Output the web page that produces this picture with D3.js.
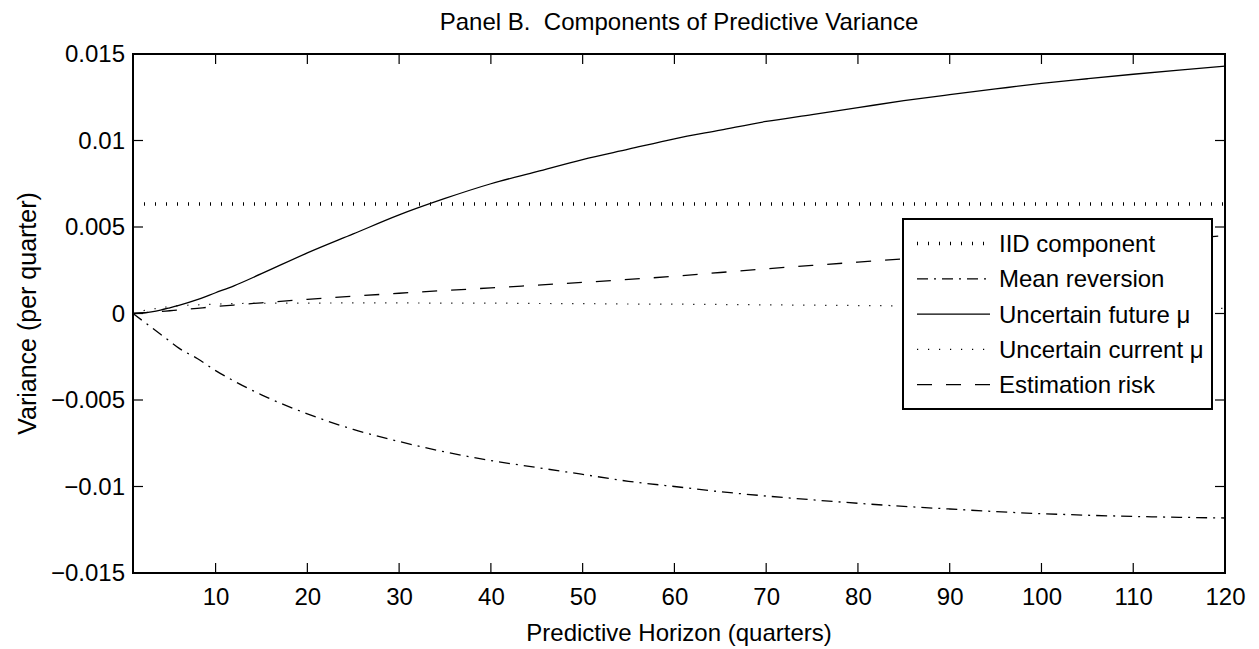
<!DOCTYPE html>
<html><head><meta charset="utf-8">
<script src="https://cdn.jsdelivr.net/npm/d3@7"></script>
<style>
html,body{margin:0;padding:0;background:#fff;}
svg text{font-family:"Liberation Sans",Arial,Helvetica,sans-serif;fill:#000;}
</style></head>
<body><svg id="c" width="1259" height="649"></svg>
<script>
// ---- data ----
const horizon = [1,2,3,4,5,6,8,10,12,15,20,25,30,35,40,45,50,55,60,65,70,75,80,85,90,95,100,105,110,115,120];
const iidComponent = horizon.map(() => 0.00633);
const meanReversion = [0,-0.0004,-0.0008,-0.0012,-0.0016,-0.0020,-0.0026,-0.0033,-0.0039,-0.0047,-0.0058,-0.0067,-0.0074,-0.0080,-0.0085,-0.0089,-0.0093,-0.0097,-0.0100,-0.0103,-0.01055,-0.01077,-0.01097,-0.01115,-0.0113,-0.01145,-0.01157,-0.01166,-0.01173,-0.01178,-0.01182];
const uncertainFuture = [0,0.00003,0.0001,0.0002,0.00033,0.00047,0.0008,0.0012,0.0016,0.0023,0.0035,0.0046,0.0057,0.00665,0.0075,0.0082,0.0089,0.0095,0.0101,0.0106,0.0111,0.0115,0.0119,0.0123,0.01265,0.01298,0.0133,0.01357,0.01383,0.01407,0.0143];
const uncertainCurrent = [0,0.00015,0.00025,0.00032,0.0004,0.00045,0.0005,0.00054,0.00057,0.00059,0.0006,0.00061,0.00061,0.0006,0.0006,0.00058,0.00057,0.00055,0.00054,0.00052,0.0005,0.00048,0.00046,0.00044,0.00042,0.0004,0.00038,0.00036,0.00034,0.00032,0.0003];
const estimationRisk = [0,0.00004,0.00008,0.00012,0.00016,0.0002,0.0003,0.0004,0.00049,0.00062,0.00082,0.001,0.00117,0.00133,0.00148,0.00164,0.0018,0.00197,0.00215,0.00237,0.00258,0.00278,0.00297,0.00316,0.00335,0.00353,0.0037,0.0039,0.0041,0.0043,0.0045];
const seriesNames = ["IID component","Mean reversion","Uncertain future \u03bc","Uncertain current \u03bc","Estimation risk"];
const xTicks = [10,20,30,40,50,60,70,80,90,100,110,120];
const yTicks = [-0.015,-0.01,-0.005,0,0.005,0.01,0.015];
const yTickLabels = ["\u22120.015","\u22120.01","\u22120.005","0","0.005","0.01","0.015"];
const titleText = "Panel B.\u00a0 Components of Predictive Variance";
const xLabel = "Predictive Horizon (quarters)";
const yLabel = "Variance (per quarter)";

// ---- layout ----
const L = 133, R = 1225, T = 54, B = 573;
const svg = d3.select("#c");
const x = d3.scaleLinear().domain([1,120]).range([L,R]);
const y = d3.scaleLinear().domain([-0.015,0.015]).range([B,T]);

const styles = [
  {dash:"1 10", w:3.5},
  {dash:"11 6 2 6", w:1.3},
  {dash:null, w:1.3},
  {dash:"1.2 9.8", w:1.2},
  {dash:"15 14", w:1.3}
];
const allSeries = [iidComponent, meanReversion, uncertainFuture, uncertainCurrent, estimationRisk];

const line = d3.line().x((d,i)=>x(horizon[i])).y(d=>y(d)).curve(d3.curveMonotoneX);
const gLines = svg.append("g");
allSeries.forEach((s,k)=>{
  const p = gLines.append("path").datum(s).attr("d",line)
    .attr("fill","none").attr("stroke","#000").attr("stroke-width",styles[k].w);
  if(styles[k].dash) p.attr("stroke-dasharray",styles[k].dash);
});

// ---- axes ----
const tickLen = 10;
const axB = d3.axisBottom(x).tickValues(xTicks).tickSize(0).tickPadding(15);
const gx = svg.append("g").attr("transform",`translate(0,${B})`).call(axB);
gx.select(".domain").remove();
gx.selectAll("text").attr("font-size",24).attr("font-family","Liberation Sans, Arial, sans-serif").attr("dy","0.71em");
const axL = d3.axisLeft(y).tickValues(yTicks).tickFormat((d,i)=>yTickLabels[i]).tickSize(0).tickPadding(8);
const gy = svg.append("g").attr("transform",`translate(${L},0)`).call(axL);
gy.select(".domain").remove();
gy.selectAll("text").attr("font-size",24).attr("font-family","Liberation Sans, Arial, sans-serif");

const gt = svg.append("g").attr("stroke","#000").attr("stroke-width",1.2);
xTicks.forEach(v=>{
  gt.append("line").attr("x1",x(v)).attr("x2",x(v)).attr("y1",B).attr("y2",B-tickLen);
  gt.append("line").attr("x1",x(v)).attr("x2",x(v)).attr("y1",T).attr("y2",T+tickLen);
});
yTicks.forEach(v=>{
  gt.append("line").attr("x1",L).attr("x2",L+tickLen).attr("y1",y(v)).attr("y2",y(v));
  gt.append("line").attr("x1",R).attr("x2",R-tickLen).attr("y1",y(v)).attr("y2",y(v));
});
svg.append("rect").attr("x",L).attr("y",T).attr("width",R-L).attr("height",B-T)
  .attr("fill","none").attr("stroke","#000").attr("stroke-width",2);

// ---- legend ----
const lg = svg.append("g").attr("transform","translate(903,219)");
lg.append("rect").attr("width",309).attr("height",190).attr("fill","#fff").attr("stroke","#000").attr("stroke-width",2);
seriesNames.forEach((n,k)=>{
  const cy = 24.5 + k*35.3;
  const l = lg.append("line").attr("x1",14).attr("x2",87).attr("y1",cy).attr("y2",cy)
    .attr("stroke","#000").attr("stroke-width",styles[k].w);
  if(styles[k].dash) l.attr("stroke-dasharray",styles[k].dash);
  lg.append("text").attr("x",96).attr("y",cy).attr("dy","0.36em").attr("font-size",24).text(n);
});

// ---- titles ----
svg.append("text").attr("x",(L+R)/2).attr("y",30).attr("text-anchor","middle").attr("font-size",24).text(titleText);
svg.append("text").attr("x",(L+R)/2).attr("y",641).attr("text-anchor","middle").attr("font-size",24).text(xLabel);
svg.append("text").attr("transform",`translate(36,${(T+B)/2}) rotate(-90)`).attr("text-anchor","middle").attr("font-size",25).text(yLabel);
</script></body></html>
